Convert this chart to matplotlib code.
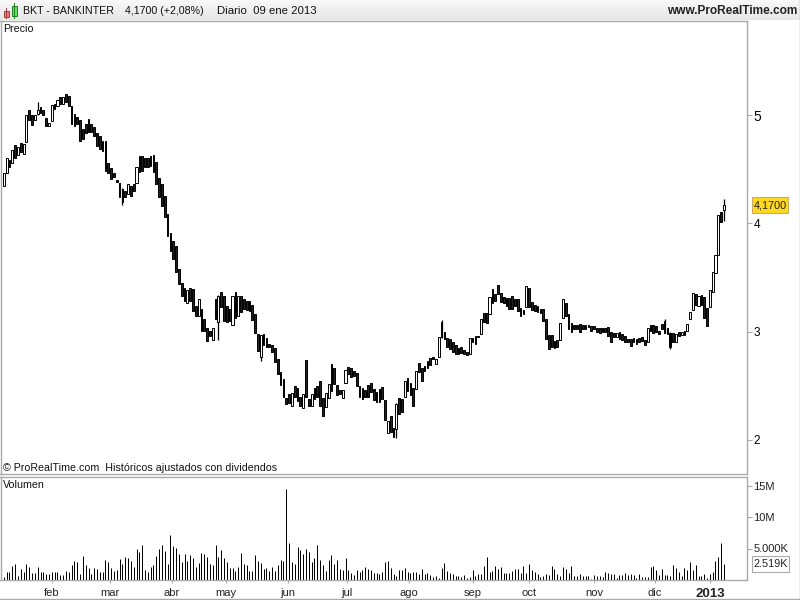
import numpy as np
import matplotlib
matplotlib.use('Agg')
import matplotlib.pyplot as plt
from matplotlib.patches import Rectangle

plt.rcParams['font.family'] = ['Liberation Sans', 'DejaVu Sans']

# daily candles
opens = [
    4.34, 4.46, 4.58, 4.56, 4.72, 4.63, 4.74, 4.64, 4.75, 5.05,
    5.00, 4.95, 5.01, 5.07, 5.05, 4.97, 4.90, 4.94, 5.10, 5.08,
    5.17, 5.10, 5.19, 5.18, 5.08, 5.01, 4.98, 4.95, 4.87, 4.92,
    4.96, 4.92, 4.89, 4.83, 4.81, 4.76, 4.76, 4.56, 4.51, 4.46,
    4.40, 4.37, 4.32, 4.30, 4.27, 4.34, 4.36, 4.37, 4.62, 4.62,
    4.60, 4.60, 4.62, 4.63, 4.57, 4.42, 4.36, 4.25, 4.09, 3.91,
    3.84, 3.79, 3.58, 3.45, 3.40, 3.26, 3.40, 3.39, 3.24,
    3.14, 3.21, 3.12, 3.03, 3.01, 2.92, 3.30, 3.09, 3.37, 3.33,
    3.24, 3.21, 3.06, 3.37, 3.14, 3.33, 3.30, 3.28, 3.28,
    3.25, 3.16, 2.98, 2.77, 2.98, 2.94, 2.89, 2.88, 2.85, 2.75,
    2.63, 2.56, 2.39, 2.42, 2.31, 2.50, 2.48, 2.40, 2.29, 2.74,
    2.38, 2.31, 2.48, 2.50, 2.54, 2.39, 2.30, 2.39, 2.70, 2.66,
    2.51, 2.46, 2.39, 2.53, 2.67, 2.66, 2.64, 2.62, 2.50, 2.48,
    2.46, 2.51, 2.53, 2.47, 2.44, 2.47, 2.49, 2.37, 2.06, 2.22,
    2.11, 2.10, 2.39, 2.38, 2.40, 2.57, 2.53, 2.48, 2.47, 2.71,
    2.66, 2.68, 2.73, 2.76, 2.77, 2.70, 2.77, 3.09, 3.00, 2.94,
    2.93, 2.90, 2.88, 2.85, 2.86, 2.83, 2.81, 2.79, 2.94, 2.96,
    2.96, 2.98, 3.17, 3.17, 3.16, 3.39, 3.35, 3.43, 3.36, 3.32,
    3.31, 3.31, 3.33, 3.30, 3.30, 3.22, 3.20, 3.23, 3.40, 3.27,
    3.25, 3.24, 3.21, 3.21, 3.12, 2.97, 2.97, 2.91, 2.92, 2.92,
    3.13, 3.26, 3.16, 3.08, 3.06, 3.06, 3.07, 3.06, 3.06, 3.06,
    3.05, 3.05, 3.03, 3.03, 3.03, 3.03, 3.04, 3.00, 2.99, 2.95,
    3.00, 2.98, 2.96, 2.93, 2.93, 2.94, 2.93, 2.94, 2.95, 2.92,
    2.90, 3.06, 3.06, 3.05, 3.01, 3.07, 3.10, 3.03, 2.99, 2.99,
    2.90, 3.00, 2.97, 3.01, 3.01, 3.12, 3.20, 3.35, 3.24, 3.34, 3.32, 3.22,
    3.23, 3.37, 3.54, 3.71, 4.10, 4.12,
]
closes = [
    4.46, 4.60, 4.52, 4.68, 4.60, 4.70, 4.66, 4.73, 5.00, 4.95,
    4.91, 5.00, 5.05, 5.02, 5.00, 4.90, 4.93, 5.09, 5.06, 5.14,
    5.10, 5.17, 5.12, 5.08, 4.92, 4.90, 4.92, 4.76, 4.78, 4.83,
    4.84, 4.84, 4.81, 4.71, 4.69, 4.67, 4.48, 4.46, 4.41, 4.43,
    4.38, 4.24, 4.20, 4.24, 4.36, 4.25, 4.30, 4.52, 4.47, 4.48,
    4.52, 4.52, 4.53, 4.47, 4.36, 4.24, 4.16, 4.06, 3.88, 3.74,
    3.67, 3.55, 3.44, 3.33, 3.28, 3.38, 3.28, 3.19, 3.14,
    3.30, 3.01, 3.01, 2.91, 2.96, 3.03, 3.12, 3.33, 3.23, 3.10,
    3.09, 3.10, 3.33, 3.13, 3.33, 3.18, 3.21, 3.20, 3.19,
    3.11, 2.99, 2.82, 2.97, 2.88, 2.86, 2.86, 2.81, 2.72, 2.61,
    2.51, 2.40, 2.33, 2.34, 2.43, 2.40, 2.36, 2.31, 2.42, 2.40,
    2.31, 2.42, 2.38, 2.40, 2.31, 2.22, 2.43, 2.52, 2.45, 2.52,
    2.41, 2.42, 2.46, 2.65, 2.61, 2.58, 2.59, 2.50, 2.40, 2.38,
    2.40, 2.40, 2.44, 2.37, 2.35, 2.35, 2.38, 2.18, 2.17, 2.07,
    2.03, 2.33, 2.24, 2.26, 2.54, 2.45, 2.41, 2.31, 2.64, 2.63,
    2.54, 2.64, 2.66, 2.69, 2.75, 2.75, 2.95, 2.95, 2.93, 2.86,
    2.84, 2.81, 2.79, 2.79, 2.80, 2.79, 2.78, 2.94, 2.90, 2.89,
    2.95, 3.12, 3.09, 3.08, 3.32, 3.26, 3.28, 3.35, 3.27, 3.26,
    3.24, 3.21, 3.21, 3.24, 3.19, 3.14, 3.16, 3.42, 3.23, 3.20,
    3.19, 3.18, 3.17, 3.10, 2.93, 2.84, 2.86, 2.85, 2.86, 3.08,
    3.30, 3.14, 3.02, 3.00, 3.02, 3.02, 3.00, 3.02, 3.02, 3.04,
    3.01, 3.02, 3.00, 2.99, 3.00, 3.00, 2.96, 2.90, 2.95, 2.99,
    2.93, 2.92, 2.90, 2.90, 2.87, 2.90, 2.89, 2.90, 2.91, 2.88,
    3.03, 3.01, 2.99, 3.00, 2.98, 3.02, 2.99, 2.98, 2.86, 2.90,
    2.98, 2.96, 3.00, 2.97, 3.07, 3.18, 3.36, 3.25, 3.33, 3.25, 3.13, 3.05,
    3.38, 3.55, 3.71, 4.08, 4.01, 4.17,
]

# bars whose wick sticks out well past the body
wick_bars = [12, 42, 76, 91, 139, 155, 234, 236, 255]
wick_highs = [5.12, 4.33, 3.34, 2.97, 2.34, 3.11, 3.12, 3.00, 4.22]
wick_lows = [5.00, 4.17, 2.92, 2.73, 2.02, 2.94, 2.99, 2.84, 4.02]

# volume in millions
volumes = [
    0.5, 1.3, 1.2, 2.2, 2.6, 0.6, 1.7, 1.2, 2.5, 2.0,
    1.1, 1.1, 2.0, 1.3, 1.3, 1.0, 1.0, 1.3, 1.3, 1.3,
    0.8, 0.8, 1.4, 1.2, 2.4, 3.0, 2.8, 1.0, 3.8, 2.4,
    1.9, 1.0, 1.9, 1.8, 1.2, 1.2, 3.2, 2.9, 1.9, 1.5,
    1.6, 3.3, 2.5, 3.6, 3.5, 3.0, 2.0, 4.9, 4.4, 5.6,
    1.6, 1.3, 2.0, 2.4, 3.8, 4.9, 5.6, 4.6, 2.5, 7.1,
    5.4, 5.1, 4.1, 2.8, 4.2, 3.0, 4.0, 3.5, 2.0, 2.7,
    4.3, 4.1, 3.7, 2.5, 2.4, 5.6, 3.7, 4.8, 3.5, 2.9,
    1.9, 1.9, 1.4, 2.1, 4.3, 2.5, 2.4, 1.4, 1.4, 4.0,
    3.0, 2.7, 1.7, 1.9, 1.4, 2.1, 1.4, 2.4, 3.2, 3.0,
    14.5, 5.9, 2.9, 2.6, 5.2, 4.7,
    4.1, 4.9, 4.5, 2.8, 3.5, 5.6, 3.1, 2.4, 1.5, 3.1,
    3.9, 2.5, 3.2, 1.7, 1.6, 3.5, 1.6, 1.1, 0.8, 1.6,
    1.3, 1.6, 2.1, 1.7, 1.6, 1.1, 1.1, 1.0, 1.3, 2.9,
    3.0, 1.9, 1.0, 0.6, 1.6, 1.6, 1.9, 1.3, 1.1, 1.3,
    1.3, 1.0, 1.7, 1.0, 1.1, 0.8, 0.5, 0.6, 0.3, 1.9,
    2.7, 1.4, 1.1, 1.0, 0.6, 0.6, 0.5, 0.8, 0.3, 0.5,
    1.6, 0.6, 1.0, 1.0, 2.2, 3.7, 1.3, 1.4, 2.2, 1.7,
    2.1, 1.1, 1.1, 1.1, 1.4, 1.7, 1.7, 1.1, 2.2, 1.1,
    2.5, 1.6, 1.3, 1.0, 0.5, 0.6, 1.0, 0.8, 2.2, 1.7,
    1.0, 0.6, 2.1, 1.7, 1.1, 2.2, 0.6, 0.6, 1.0, 0.6,
    0.6, 0.6, 0.2, 0.8, 0.6,
    0.6, 0.5, 1.2, 1.1, 0.9, 1.0, 0.3, 0.8, 0.8, 1.1,
    0.8, 0.9, 0.8, 0.3, 0.9, 0.5, 0.5, 0.5, 2.1, 2.2,
    1.6, 0.8, 1.7, 0.8, 0.8, 0.6, 2.4, 1.9, 1.3, 0.6,
    1.9, 1.6, 2.9, 1.6, 2.4, 0.6, 0.6, 1.0, 0.3, 1.0,
    1.3, 3.0, 3.7, 5.9, 2.519,
]

month_labels = ['feb', 'mar', 'abr', 'may', 'jun', 'jul', 'ago', 'sep', 'oct', 'nov', 'dic', '2013']
month_bars = [17, 37.7, 59.6, 78.7, 100.6, 121.4, 143.4, 166, 186, 209, 230.6, 250]

price_ticks = [2, 3, 4, 5]
volume_ticks = [5, 10, 15]
volume_tick_labels = ['5.000K', '10M', '15M']

GREY = '#aaaaaa'
W, H = 800, 600
BAR_STEP = 2.826
FIRST_X = 3.3


def ax_box(left, top, right, bottom):
    return [left / W, 1 - bottom / H, (right - left) / W, (bottom - top) / H]


def px_text(x, y, s, **kw):
    kw.setdefault('fontsize', 7.7)
    kw.setdefault('va', 'center')
    kw.setdefault('color', '#111111')
    fig.text(x / W, 1 - y / H, s, **kw)


def value_box(left, top, right, bottom, label, face, edge):
    fig.add_artist(Rectangle((left / W, 1 - bottom / H), (right - left) / W, (bottom - top) / H,
                             transform=fig.transFigure, fc=face, ec=edge, lw=0.8))
    px_text((left + right) / 2, (top + bottom) / 2, label, ha='center', fontsize=7.8, color='#222222')


def draw_header():
    head = fig.add_axes(ax_box(0, 0, W, 20))
    head.imshow(np.linspace(0.97, 0.90, 20).reshape(-1, 1), cmap='gray', vmin=0, vmax=1,
                aspect='auto', extent=[0, W, 20, 0])
    head.set_xlim(0, W)
    head.set_ylim(20, 0)
    head.axis('off')
    # the little red and green candles of the logo
    head.plot([6, 6], [8, 18], color='#a04040', lw=0.7)
    head.add_patch(Rectangle((3.5, 11), 5, 6, fc='#ff7070', ec='#a04040', lw=0.7))
    head.plot([14, 14], [3, 18], color='#208020', lw=0.7)
    head.add_patch(Rectangle((11.5, 6), 5, 10, fc='#60e060', ec='#208020', lw=0.7))
    px_text(23, 11, 'BKT - BANKINTER')
    px_text(125, 11, '4,1700 (+2,08%)')
    px_text(217, 11, 'Diario  09 ene 2013', fontsize=8.2)
    px_text(797, 11, 'www.ProRealTime.com', fontsize=8.6, ha='right', fontweight='bold', color='#222222')


def draw_candles(ax):
    x = np.arange(len(opens))
    o = np.array(opens)
    c = np.array(closes)
    ax.vlines(wick_bars, wick_lows, wick_highs, color='black', lw=0.9)
    up = c >= o
    ax.bar(x[~up], (c - o)[~up], bottom=o[~up], width=0.6, fc='#222222', ec='black', lw=0.7)
    ax.bar(x[up], (c - o)[up], bottom=o[up], width=0.75, fc='white', ec='black', lw=0.7, zorder=3)


fig = plt.figure(figsize=(8, 6), dpi=100)
fig.patch.set_facecolor('white')
draw_header()

xlim = (-FIRST_X / BAR_STEP, (747 - FIRST_X) / BAR_STEP)

price_ax = fig.add_axes(ax_box(0.5, 20.5, 747, 474))
price_ax.set_xlim(xlim)
price_ax.set_ylim(5 - (474 - 115) / 108.3, 5 + (115 - 20.5) / 108.3)
draw_candles(price_ax)
price_ax.yaxis.tick_right()
price_ax.set_yticks(price_ticks)
price_ax.set_yticklabels([str(t) for t in price_ticks], fontsize=8.5)
price_ax.get_yticklabels()[-1].set_fontsize(10)
price_ax.tick_params(axis='y', length=3.5, color=GREY, pad=1)
price_ax.set_xticks([])

vol_ax = fig.add_axes(ax_box(0.5, 477, 747, 580))
vol_ax.set_xlim(xlim)
vol_ax.set_ylim(0, 103 / 31.5 * 5)
vol_ax.vlines(np.arange(len(volumes)), 0, volumes, color='black', lw=0.72)
vol_ax.yaxis.tick_right()
vol_ax.set_yticks(volume_ticks)
vol_ax.set_yticklabels(volume_tick_labels, fontsize=8, color='#222222')
vol_ax.tick_params(axis='y', length=3.5, color=GREY, pad=1)
vol_ax.set_xticks(month_bars)
vol_ax.set_xticklabels(month_labels, fontsize=8, color='#222222')
vol_ax.get_xticklabels()[-1].set_fontweight('bold')
vol_ax.get_xticklabels()[-1].set_fontsize(9.5)
vol_ax.tick_params(axis='x', length=2, color=GREY, pad=4)

for ax in (price_ax, vol_ax):
    for spine in ax.spines.values():
        spine.set_color(GREY)
        spine.set_linewidth(1.0)

px_text(3, 28.5, 'Precio')
px_text(3, 468, '© ProRealTime.com  Históricos ajustados con dividendos')
px_text(3, 485, 'Volumen')

# value boxes on the right scale
value_box(752, 197, 788, 213, '4,1700', '#ffd820', '#c8b060')
value_box(752, 556, 789, 572, '2.519K', 'white', GREY)

# outer frame of the picture
fig.add_artist(plt.Line2D([799.5 / W, 799.5 / W], [0, 1], color=GREY, lw=1))
fig.add_artist(plt.Line2D([0, 1], [1.5 / H, 1.5 / H], color=GREY, lw=1))

fig.savefig('out.png', dpi=100)
